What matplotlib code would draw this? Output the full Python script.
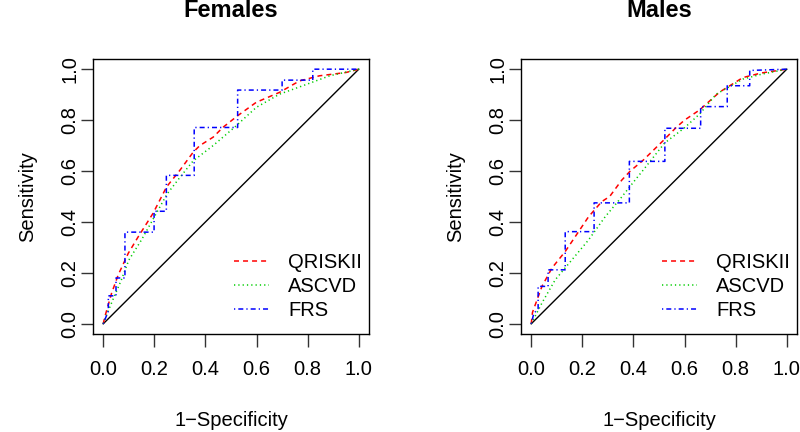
import matplotlib
matplotlib.use("Agg")
import matplotlib.pyplot as plt

plt.rcParams['font.family'] = ['Liberation Sans', 'DejaVu Sans']
plt.rcParams['lines.scale_dashes'] = False

titles = ["Females", "Males"]
series_names = ["QRISKII", "ASCVD", "FRS"]
tick_vals = [0.0, 0.2, 0.4, 0.6, 0.8, 1.0]
tick_labels = ["0.0", "0.2", "0.4", "0.6", "0.8", "1.0"]

# Females
f_q_fpr = [0, 0.007, 0.033, 0.059, 0.098, 0.137, 0.195, 0.248, 0.30, 0.352, 0.378, 0.43, 0.469, 0.527, 0.599, 0.69, 0.768, 0.846, 0.95, 1.0]
f_q_tpr = [0, 0.03, 0.121, 0.193, 0.277, 0.342, 0.434, 0.538, 0.603, 0.674, 0.70, 0.733, 0.772, 0.818, 0.87, 0.909, 0.954, 0.974, 0.987, 1.0]
f_a_fpr = [0, 0.007, 0.04, 0.07, 0.10, 0.15, 0.20, 0.25, 0.30, 0.352, 0.43, 0.514, 0.599, 0.69, 0.781, 0.886, 1.0]
f_a_tpr = [0, 0.02, 0.10, 0.17, 0.25, 0.33, 0.42, 0.51, 0.575, 0.64, 0.70, 0.772, 0.85, 0.902, 0.935, 0.974, 1.0]
f_f_fpr = [0, 0.02, 0.02, 0.05, 0.05, 0.085, 0.085, 0.199, 0.199, 0.247, 0.247, 0.356, 0.356, 0.526, 0.526, 0.70, 0.70, 0.82, 0.82, 1.0]
f_f_tpr = [0, 0.05, 0.11, 0.11, 0.18, 0.18, 0.36, 0.36, 0.442, 0.442, 0.583, 0.583, 0.771, 0.771, 0.918, 0.918, 0.957, 0.957, 1.0, 1.0]

# Males
m_q_fpr = [0, 0.005, 0.042, 0.081, 0.133, 0.172, 0.224, 0.276, 0.307, 0.354, 0.3875, 0.4375, 0.517, 0.568, 0.6, 0.659, 0.737, 0.828, 0.9, 1.0]
m_q_tpr = [0, 0.045, 0.147, 0.219, 0.284, 0.342, 0.42, 0.48, 0.50, 0.564, 0.60, 0.642, 0.72, 0.772, 0.80, 0.84, 0.91, 0.967, 0.985, 1.0]
m_a_fpr = [0, 0.009, 0.042, 0.094, 0.159, 0.224, 0.289, 0.354, 0.406, 0.4375, 0.522, 0.60, 0.659, 0.724, 0.828, 0.9, 1.0]
m_a_tpr = [0, 0.017, 0.082, 0.173, 0.251, 0.329, 0.42, 0.498, 0.564, 0.603, 0.71, 0.77, 0.824, 0.902, 0.961, 0.98, 1.0]
m_f_fpr = [0, 0.01, 0.027, 0.027, 0.066, 0.066, 0.133, 0.133, 0.246, 0.246, 0.384, 0.384, 0.523, 0.523, 0.663, 0.663, 0.767, 0.767, 0.855, 0.855, 1.0]
m_f_tpr = [0, 0.04, 0.06, 0.147, 0.147, 0.212, 0.212, 0.362, 0.362, 0.475, 0.475, 0.638, 0.638, 0.768, 0.768, 0.853, 0.853, 0.935, 0.935, 0.995, 1.0]

panels = [
    (f_q_fpr, f_q_tpr, f_a_fpr, f_a_tpr, f_f_fpr, f_f_tpr),
    (m_q_fpr, m_q_tpr, m_a_fpr, m_a_tpr, m_f_fpr, m_f_tpr),
]

colors = ["#FF0000", "#00CD00", "#0000FF"]
styles = [(0, (3.6, 2.9)), (0, (0.9, 2.2)), (0, (0.9, 2.2, 3.6, 2.2))]

W, H = 800, 432
fig = plt.figure(figsize=(8, 4.32), dpi=100)
fs = 14.5
lefts = [93, 521]
for i, (lx, data) in enumerate(zip(lefts, panels)):
    ax = fig.add_axes([lx / W, (H - 334) / H, 276 / W, 275 / H])
    ax.set_xlim(-0.04, 1.04)
    ax.set_ylim(-0.04, 1.04)
    ax.plot([0, 1], [0, 1], color="black", lw=1.0)
    lines = []
    for k in range(3):
        ln, = ax.plot(data[2 * k], data[2 * k + 1], color=colors[k], lw=1.1,
                      linestyle=styles[k], label=series_names[k])
        lines.append(ln)
    ax.set_xticks(tick_vals)
    ax.set_xticklabels(tick_labels)
    ax.set_yticks(tick_vals)
    ax.set_yticklabels(tick_labels, rotation=90, va="center")
    ax.tick_params(axis="both", direction="out", length=9, width=1.0,
                   labelsize=fs, color="#333333")
    ax.tick_params(axis="x", pad=10)
    ax.tick_params(axis="y", pad=1)
    for sp in ax.spines.values():
        sp.set_linewidth(1.0)
    leg = ax.legend(handles=lines, loc="lower left", bbox_to_anchor=(0.511, 0.05),
                    frameon=False, fontsize=fs, handlelength=1.75,
                    handletextpad=0.95, labelspacing=0.25, borderpad=0,
                    borderaxespad=0)
    cx = (lx + 138) / W
    fig.text(cx, (H - 16.7) / H, titles[i], ha="center", va="baseline",
             fontsize=17, fontweight="bold")
    fig.text(cx, (H - 426.5) / H, "1\u2212Specificity", ha="center",
             va="baseline", fontsize=fs)
    fig.text((lx - 65) / W, (H - 196.5) / H, "Sensitivity", ha="center",
             va="center", rotation=90, fontsize=fs)

fig.savefig("out.png", dpi=100)
